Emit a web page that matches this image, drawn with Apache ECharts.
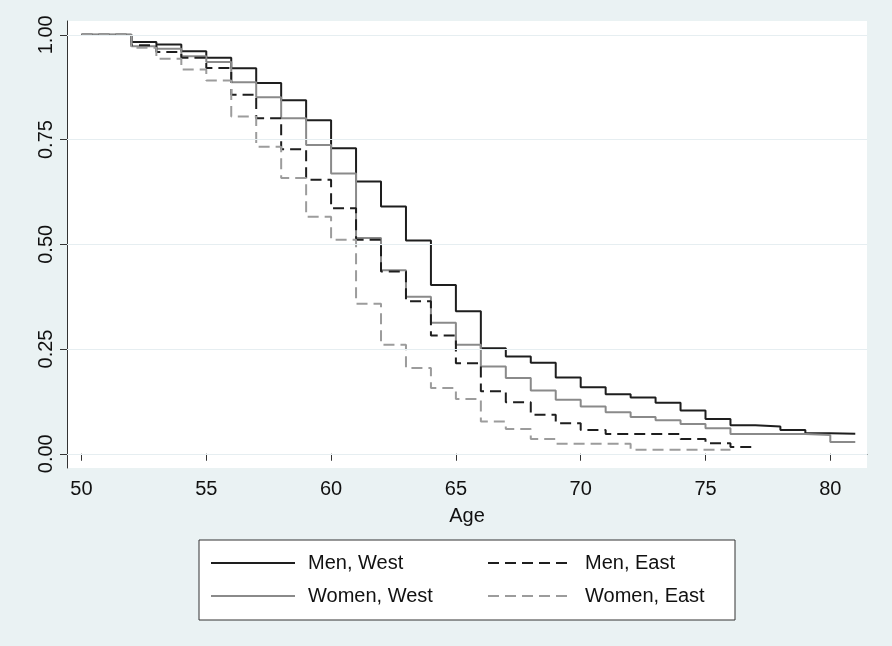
<!DOCTYPE html>
<html lang="en">
<head>
    <meta charset="UTF-8">
    <title>Survival by age</title>
    <script src="https://cdn.jsdelivr.net/npm/echarts@6/dist/echarts.min.js"></script>
    <style>
        html, body { margin: 0; padding: 0; background: #eaf2f3; }
        #chart { width: 892px; height: 646px; }
    </style>
</head>
<body>
<div id="chart"></div>

<script>
    // ages where the curves step (value holds until the next age)
    var ages = [50, 52, 53, 54, 55, 56, 57, 58, 59, 60, 61, 62, 63, 64, 65, 66,
                67, 68, 69, 70, 71, 72, 73, 74, 75, 76, 77, 78, 79, 80, 81];

    var menWest = [1, 0.983, 0.977, 0.961, 0.945, 0.920, 0.885, 0.844, 0.796, 0.729, 0.650,
                   0.590, 0.509, 0.403, 0.340, 0.252, 0.232, 0.217, 0.182, 0.159, 0.142,
                   0.134, 0.122, 0.103, 0.083, 0.068, 0.065, 0.057, 0.049, 0.048, 0.048];
    var womenWest = [1, 0.973, 0.967, 0.949, 0.935, 0.887, 0.851, 0.801, 0.737, 0.669, 0.515,
                     0.438, 0.375, 0.313, 0.260, 0.208, 0.181, 0.151, 0.129, 0.113, 0.099,
                     0.088, 0.080, 0.071, 0.061, 0.047, 0.047, 0.047, 0.045, 0.028, 0.028];
    var menEast = [1, 0.975, 0.959, 0.945, 0.921, 0.857, 0.801, 0.727, 0.654, 0.586, 0.511,
                   0.435, 0.364, 0.282, 0.216, 0.149, 0.123, 0.093, 0.073, 0.057, 0.047,
                   0.047, 0.047, 0.035, 0.025, 0.016, 0.016];
    var womenEast = [1, 0.969, 0.943, 0.917, 0.891, 0.805, 0.733, 0.658, 0.566, 0.511, 0.358,
                     0.260, 0.205, 0.157, 0.131, 0.077, 0.059, 0.035, 0.024, 0.024, 0.024,
                     0.0095, 0.0095, 0.0095, 0.0095, 0.0095];

    var xTicks = [50, 55, 60, 65, 70, 75, 80];
    var yTicks = [0, 0.25, 0.5, 0.75, 1];

    function pairs(vals) {
        return vals.map(function (v, i) { return [ages[i], v]; });
    }

    var font = 'Liberation Sans, Arial, Helvetica, sans-serif';
    var chart = echarts.init(document.getElementById('chart'));

    function curve(name, vals, color, dashed) {
        return {
            name: name,
            type: 'line',
            step: 'end',
            data: pairs(vals),
            symbol: 'none',
            showSymbol: false,
            z: 3,
            lineStyle: {color: color, width: 2, type: dashed ? [11, 6] : 'solid'},
            itemStyle: {color: color}
        };
    }

    var legendBase = {
        orient: 'vertical',
        top: 552,
        padding: 0,
        itemWidth: 84, itemHeight: 14, itemGap: 11,
        itemStyle: {opacity: 0},
        textStyle: {fontSize: 20, color: '#111', lineHeight: 22, padding: [0, 0, 0, 8]}
    };

    var option = {
        animation: false,
        backgroundColor: '#eaf2f3',
        textStyle: {fontFamily: font},
        grid: {
            left: 67, right: 25, top: 21, bottom: 178,
            show: true, backgroundColor: '#ffffff', borderWidth: 0
        },
        xAxis: {
            type: 'value',
            min: 49.42, max: 81.47,
            name: 'Age',
            nameLocation: 'middle',
            nameGap: 38,
            nameTextStyle: {fontSize: 20, color: '#111', fontFamily: font},
            axisLine: {lineStyle: {color: '#333', width: 1}},
            axisTick: {show: true, length: 7, customValues: xTicks, lineStyle: {color: '#333'}},
            axisLabel: {customValues: xTicks, fontSize: 20, color: '#111', margin: 11},
            splitLine: {show: false}
        },
        yAxis: {
            type: 'value',
            min: -0.034, max: 1.033,
            axisLine: {show: true, lineStyle: {color: '#333', width: 1}},
            axisTick: {show: true, length: 7, customValues: yTicks, lineStyle: {color: '#333'}},
            axisLabel: {
                customValues: yTicks, fontSize: 20, color: '#111', rotate: 90, margin: 11,
                formatter: function (v) { return v.toFixed(2); }
            },
            splitLine: {show: false}
        },
        legend: [
            Object.assign({left: 210, data: ['Men, West', 'Women, West']}, legendBase),
            Object.assign({left: 487, data: ['Men, East', 'Women, East']}, legendBase)
        ],
        graphic: [{
            type: 'rect',
            z: 0,
            shape: {x: 199, y: 540, width: 536, height: 80},
            style: {fill: '#ffffff', stroke: '#333', lineWidth: 1}
        }],
        series: [
            {
                name: 'grid',
                type: 'line',
                data: [],
                z: 1,
                silent: true,
                markLine: {
                    silent: true,
                    symbol: 'none',
                    label: {show: false},
                    lineStyle: {color: '#e6eef1', width: 1, type: 'solid'},
                    data: yTicks.map(function (t) { return {yAxis: t}; })
                }
            },
            curve('Men, West', menWest, '#1e1e1e', false),
            curve('Women, West', womenWest, '#8a8a8a', false),
            curve('Men, East', menEast, '#1e1e1e', true),
            curve('Women, East', womenEast, '#9c9c9c', true)
        ]
    };

    chart.setOption(option);
</script>
</body>
</html>
